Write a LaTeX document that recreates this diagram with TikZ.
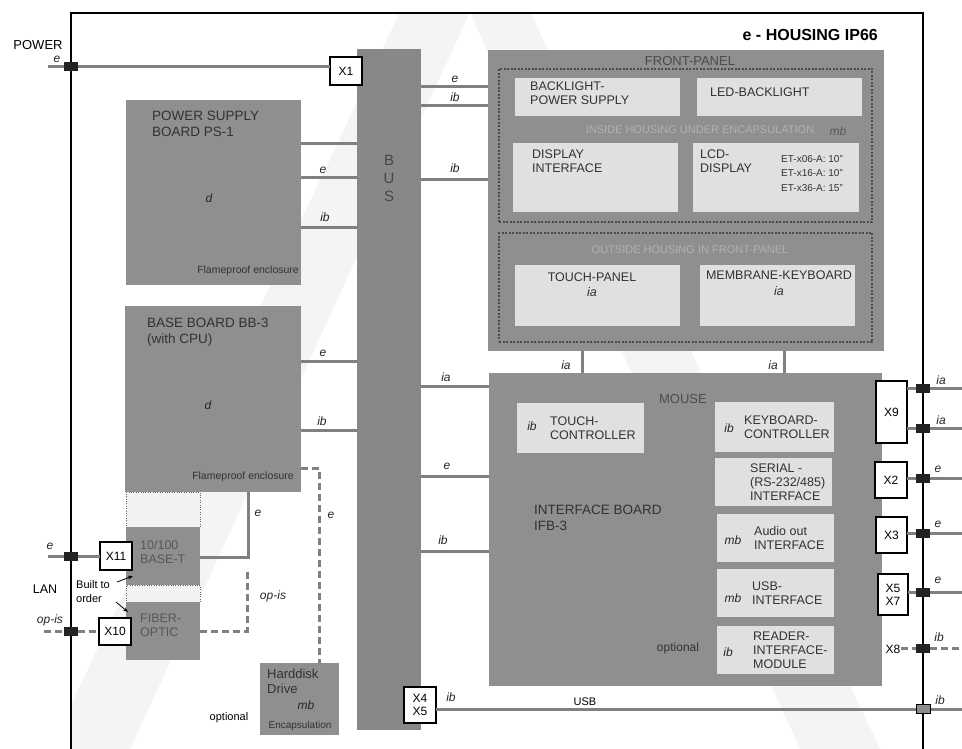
\documentclass[tikz,border=0pt]{standalone}
\usepackage{fontspec}
\setmainfont{Liberation Sans}
\usetikzlibrary{arrows.meta}
\definecolor{boardc}{RGB}{143,143,143}
\definecolor{busc}{RGB}{136,136,136}
\definecolor{lightc}{RGB}{224,224,224}
\definecolor{linec}{RGB}{128,128,128}
\definecolor{plugc}{RGB}{35,35,35}
\definecolor{txtc}{RGB}{50,50,50}
\definecolor{fptxt}{RGB}{75,75,75}
\definecolor{paletxt}{RGB}{178,178,178}
\definecolor{wmc}{RGB}{244,244,244}
\begin{document}
\begin{tikzpicture}[x=1pt,y=-1pt,
  board/.style={fill=boardc, draw=none, inner sep=0pt, outer sep=0pt},
  lbox/.style={fill=lightc, draw=none, inner sep=0pt, outer sep=0pt},
  xbox/.style={draw=black, line width=1.5pt, fill=white, inner sep=0pt, outer sep=0pt,
    font=\fontsize{12}{13}\selectfont, align=center},
  conn/.style={draw=linec, line width=3pt},
  dconn/.style={draw=linec, line width=3pt, dash pattern=on 7pt off 4pt},
  plug/.style={fill=plugc, draw=none, minimum width=14pt, minimum height=9pt, inner sep=0pt},
  lbl/.style={font=\fontsize{12}{12}\selectfont\itshape, inner sep=0pt, text=black!85},
  ttl/.style={font=\fontsize{13.5}{16}\selectfont, align=left, text=txtc, inner sep=0pt},
  itx/.style={font=\fontsize{12.5}{14}\selectfont, align=left, text=txtc, inner sep=0pt},
  small/.style={font=\fontsize{10.5}{12}\selectfont, inner sep=0pt, text=txtc},
  fpd/.style={draw=black!70, line width=1.6pt, dash pattern=on 2pt off 1.5pt, fill=none,
    inner sep=0pt, outer sep=0pt}
]
\useasboundingbox (0,0) rectangle (962,749);
\fill[white] (0,0) rectangle (962,749);
% watermark
\begin{scope}
\clip (72,14) rectangle (922,749);
\fill[wmc] (400,12) -- (470,12) -- (130,749) -- (50,749) -- cycle;
\fill[wmc] (470,12) -- (530,12) -- (880,749) -- (800,749) -- cycle;
\end{scope}
% housing frame
\draw[line width=1.8pt] (71,749) -- (71,13) -- (923,13) -- (923,749);
\node[font=\fontsize{16}{16}\selectfont\bfseries, anchor=east, inner sep=0pt] (title) at (878,35) {e - HOUSING IP66};

% bus
\node[fill=busc, inner sep=0pt, outer sep=0pt, minimum width=64pt, minimum height=681pt] (bus) at (389,389.5) {};
\node[font=\fontsize{15}{18}\selectfont, align=center, text=black!72, inner sep=0pt] (bustxt) at (389,178) {B\\U\\S};

% power supply board
\node[board, minimum width=175pt, minimum height=185pt] (ps) at (213.5,192.5) {};
\node[ttl, anchor=north west] (pst) at (152,111) {POWER SUPPLY\\BOARD PS-1};
\node[lbl] (psd) at (209,198) {d};
\node[small, anchor=east] (psf) at (299,271) {Flameproof enclosure};

% base board
\node[board, minimum width=176pt, minimum height=186pt] (bb) at (213,399) {};
\node[ttl, anchor=north west] (bbt) at (147,318) {BASE BOARD BB-3\\(with CPU)};
\node[lbl] (bbd) at (208,405) {d};
\node[small, anchor=east] (bbf) at (294,477) {Flameproof enclosure};

% LAN modules
\node[draw=black!60, dotted, fill=black!5, inner sep=0pt, minimum width=74pt, minimum height=35pt] (gap1) at (163,509.5) {};
\node[board, minimum width=74pt, minimum height=58pt] (bt) at (163,556) {};
\node[itx, anchor=north west, text=black!66] (btt) at (140,540) {10/100\\BASE-T};
\node[draw=black!60, dotted, fill=black!5, inner sep=0pt, minimum width=74pt, minimum height=17pt] (gap2) at (163,593.5) {};
\node[board, minimum width=74pt, minimum height=58pt] (fo) at (163,631) {};
\node[itx, anchor=north west, text=black!66] (fot) at (140,614) {FIBER-\\OPTIC};
\node[xbox, minimum width=32pt, minimum height=28pt] (x11) at (116,556) {X11};
\node[xbox, minimum width=32pt, minimum height=27pt] (x10) at (115,631.5) {X10};
\node[font=\fontsize{11}{14}\selectfont, align=left, anchor=north west, inner sep=0pt] (bto) at (76,580) {Built to\\order};
\coordinate (a1s) at (117,582); \coordinate (a1e) at (133,576);
\coordinate (a2s) at (116,602); \coordinate (a2e) at (128,612);
\draw[-{Stealth[length=5pt]}, line width=0.8pt] (a1s) -- (a1e);
\draw[-{Stealth[length=5pt]}, line width=0.8pt] (a2s) -- (a2e);

% harddisk
\node[board, minimum width=79pt, minimum height=72pt] (hdd) at (299.5,699) {};
\node[itx, anchor=north west, font=\fontsize{13}{15}\selectfont] (hddt) at (267,669) {Harddisk\\Drive};
\node[lbl] (hddmb) at (306,705) {mb};
\node[small, font=\fontsize{10}{11}\selectfont] (hdde) at (300,726) {Encapsulation};
\node[font=\fontsize{11}{11}\selectfont, inner sep=0pt] (hddopt) at (229,718) {optional};

% X1 and X4/X5
\node[xbox, minimum width=32pt, minimum height=28pt] (x1) at (346,71) {X1};
\node[xbox, minimum width=32pt, minimum height=36pt, font=\fontsize{12}{13}\selectfont] (x45) at (420,705) {X4\\X5};

% front panel
\node[board, minimum width=396pt, minimum height=301pt] (fp) at (686,200.5) {};
\node[font=\fontsize{13}{13}\selectfont, text=fptxt, inner sep=0pt] (fpt) at (690,61) {FRONT-PANEL};
\node[fpd, minimum width=373pt, minimum height=153pt] (dash1) at (685.5,145.5) {};
\node[lbox, minimum width=165pt, minimum height=38pt] (bps) at (597.5,97) {};
\node[itx, anchor=north west] (bpst) at (530,82) {BACKLIGHT-\\POWER SUPPLY};
\node[lbox, minimum width=165pt, minimum height=38pt] (led) at (779.5,97) {};
\node[itx, anchor=west] (ledt) at (710,92) {LED-BACKLIGHT};
\node[font=\fontsize{11}{11}\selectfont, text=paletxt, inner sep=0pt] (inside) at (700,130) {INSIDE HOUSING UNDER ENCAPSULATION};
\node[lbl, text=black!65] (insmb) at (838,131) {mb};
\node[lbox, minimum width=165pt, minimum height=69pt] (disp) at (595.5,177.5) {};
\node[itx, anchor=north west] (dispt) at (532,150) {DISPLAY\\INTERFACE};
\node[lbox, minimum width=166pt, minimum height=69pt] (lcd) at (776,177.5) {};
\node[itx, anchor=north west] (lcdt) at (700,150) {LCD-\\DISPLAY};
\node[font=\fontsize{10}{14.5}\selectfont, align=left, anchor=north west, inner sep=0pt, text=txtc] (lcdet) at (781,155) {ET-x06-A: 10"\\ET-x16-A: 10"\\ET-x36-A: 15"};
\node[fpd, minimum width=373pt, minimum height=109pt] (dash2) at (685.5,287.5) {};
\node[font=\fontsize{11}{11}\selectfont, text=paletxt, inner sep=0pt] (outside) at (690,250) {OUTSIDE HOUSING IN FRONT-PANEL};
\node[lbox, minimum width=165pt, minimum height=61pt] (tp) at (597.5,295.5) {};
\node[itx, align=center] (tpt) at (592,285) {TOUCH-PANEL\\[1pt]\itshape ia};
\node[lbox, minimum width=155pt, minimum height=61pt] (mk) at (777.5,295.5) {};
\node[itx, align=center] (mkt) at (779,283) {MEMBRANE-KEYBOARD\\[2pt]\itshape ia};

% mouse / interface board
\node[board, minimum width=393pt, minimum height=313pt] (mouse) at (685.5,529.5) {};
\node[font=\fontsize{13}{13}\selectfont, text=fptxt, inner sep=0pt] (mouset) at (683,399) {MOUSE};
\node[ttl, anchor=north west] (ifb) at (534,505) {INTERFACE BOARD\\IFB-3};
\node[lbox, minimum width=127pt, minimum height=50pt] (tc) at (580.5,428) {};
\node[lbl] (tcib) at (532,426) {ib};
\node[itx, anchor=west] (tct) at (550,428) {TOUCH-\\CONTROLLER};
\node[lbox, minimum width=119pt, minimum height=50pt] (kc) at (774.5,427) {};
\node[lbl] (kcib) at (729,428) {ib};
\node[itx, anchor=west] (kct) at (744,427) {KEYBOARD-\\CONTROLLER};
\node[lbox, minimum width=117pt, minimum height=48pt] (ser) at (773.5,482) {};
\node[itx, anchor=west] (sert) at (750,482) {SERIAL -\\(RS-232/485)\\INTERFACE};
\node[lbox, minimum width=117pt, minimum height=48pt] (aud) at (775.5,538) {};
\node[lbl] (audmb) at (733,540) {mb};
\node[itx, anchor=west] (audt) at (754,538) {Audio out\\INTERFACE};
\node[lbox, minimum width=117pt, minimum height=48pt] (usb) at (775.5,593) {};
\node[lbl] (usbmb) at (733,598) {mb};
\node[itx, anchor=west] (usbt) at (752,593) {USB-\\INTERFACE};
\node[lbox, minimum width=117pt, minimum height=48pt] (rdr) at (775.5,650) {};
\node[lbl] (rdrib) at (728,652) {ib};
\node[itx, anchor=west] (rdrt) at (753,650) {READER-\\INTERFACE-\\MODULE};
\node[font=\fontsize{12}{12}\selectfont, inner sep=0pt, text=txtc] (mopt) at (678,648) {optional};

% right connector boxes
\node[xbox, minimum width=31pt, minimum height=62pt] (x9) at (891.5,412) {X9};
\node[xbox, minimum width=32pt, minimum height=36pt] (x2) at (891,480) {X2};
\node[xbox, minimum width=31pt, minimum height=36pt] (x3) at (891.5,535) {X3};
\node[xbox, minimum width=30pt, minimum height=41pt] (x57) at (893,594.5) {X5\\X7};
\node[font=\fontsize{12}{12}\selectfont, inner sep=0pt] (x8) at (893,649) {X8};

% plugs on the housing
\node[plug] (pp) at (71,67) {};
\node[plug] (pe) at (71,556) {};
\node[plug] (po) at (71,631) {};
\node[plug] (r1) at (923,388) {};
\node[plug] (r2) at (923,428) {};
\node[plug] (r3) at (923,478) {};
\node[plug] (r4) at (923,533) {};
\node[plug] (r5) at (923,592) {};
\node[plug] (r6) at (923,648) {};
\node[plug, fill=black!45, draw=black, line width=0.8pt] (r7) at (923,709) {};

% free ends
\coordinate (pin) at (48,67);
\coordinate (ein) at (48,556);
\coordinate (oin) at (44,631);
\coordinate (o1) at (962,388);
\coordinate (o2) at (962,428);
\coordinate (o3) at (962,478);
\coordinate (o4) at (962,533);
\coordinate (o5) at (962,592);
\coordinate (o6) at (962,648);
\coordinate (o7) at (962,709);

% connectors
\draw[conn] (pin) -- (pp) -- (pp -| x1.west);
\draw[conn] (ein) -- (pe) -- (pe -| x11.west);
\draw[dconn] (oin) -- (po) -- (po -| x10.west);

\draw[conn] (ps.east |- 0,144) -- (bus.west |- 0,144);
\draw[conn] (ps.east |- 0,178) -- (bus.west |- 0,178);
\draw[conn] (ps.east |- 0,228) -- (bus.west |- 0,228);
\draw[conn] (bb.east |- 0,361) -- (bus.west |- 0,361);
\draw[conn] (bb.east |- 0,430) -- (bus.west |- 0,430);
\draw[dconn] (bb.east |- 0,468) -- (319,468) -- (hdd.north -| 319,0);
\draw[conn] (bb.south -| 248,0) -- (248,557) -- (bt.east |- 0,557);
\draw[dconn] (fo.east |- 0,631) -- (247,631) -- (247,568);

\draw[conn] (bus.east |- 0,87) -- (fp.west |- 0,87);
\draw[conn] (bus.east |- 0,106) -- (fp.west |- 0,106);
\draw[conn] (bus.east |- 0,180) -- (fp.west |- 0,180);
\draw[conn] (bus.east |- 0,386) -- (mouse.west |- 0,386);
\draw[conn] (bus.east |- 0,476) -- (mouse.west |- 0,476);
\draw[conn] (bus.east |- 0,551) -- (mouse.west |- 0,551);
\draw[conn] (fp.south -| 582,0) -- (mouse.north -| 582,0);
\draw[conn] (fp.south -| 784,0) -- (mouse.north -| 784,0);

\draw[conn] (x9.east |- r1) -- (r1) -- (o1);
\draw[conn] (x9.east |- r2) -- (r2) -- (o2);
\draw[conn] (x2.east |- r3) -- (r3) -- (o3);
\draw[conn] (x3.east |- r4) -- (r4) -- (o4);
\draw[conn] (x57.east |- r5) -- (r5) -- (o5);
\draw[dconn] (x8.east |- r6) -- (r6) -- (o6);
\draw[conn] (x45.east |- r7) -- (r7) -- (o7);

% redraw plugs on top
\node[plug] at (pp) {};
\node[plug] at (pe) {};
\node[plug] at (po) {};
\foreach \p in {r1,r2,r3,r4,r5,r6} {\node[plug] at (\p) {};}
\node[plug, fill=black!45, draw=black, line width=0.8pt] at (r7) {};

% labels
\node[font=\fontsize{13}{13}\selectfont, inner sep=0pt] (powl) at (38,45) {POWER};
\node[lbl] (lp) at (57,59) {e};
\node[lbl] (le) at (50,546) {e};
\node[font=\fontsize{12.5}{12.5}\selectfont, inner sep=0pt] (lan) at (45,589) {LAN};
\node[lbl] (lo) at (50,620) {op-is};
\node[lbl] (l1) at (323,170) {e};
\node[lbl] (l2) at (325,217) {ib};
\node[lbl] (l3) at (323,353) {e};
\node[lbl] (l4) at (322,421) {ib};
\node[lbl] (l5) at (331,515) {e};
\node[lbl] (l6) at (258,513) {e};
\node[lbl] (l7) at (273,596) {op-is};
\node[lbl] (l8) at (455,79) {e};
\node[lbl] (l9) at (455,97) {ib};
\node[lbl] (l10) at (455,168) {ib};
\node[lbl] (l11) at (446,377) {ia};
\node[lbl] (l12) at (447,466) {e};
\node[lbl] (l13) at (443,540) {ib};
\node[lbl] (l14) at (566,365) {ia};
\node[lbl] (l15) at (773,365) {ia};
\node[lbl] (l16) at (451,697) {ib};
\node[font=\fontsize{11}{11}\selectfont, inner sep=0pt] (l17) at (585,702) {USB};
\node[lbl] (r1l) at (941,380) {ia};
\node[lbl] (r2l) at (941,420) {ia};
\node[lbl] (r3l) at (938,469) {e};
\node[lbl] (r4l) at (938,524) {e};
\node[lbl] (r5l) at (938,580) {e};
\node[lbl] (r6l) at (939,637) {ib};
\node[lbl] (r7l) at (940,700) {ib};
\end{tikzpicture}
\end{document}
